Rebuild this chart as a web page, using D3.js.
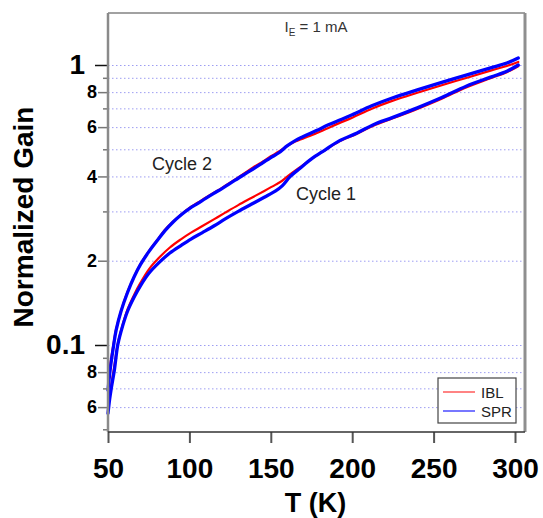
<!DOCTYPE html>
<html>
<head>
<meta charset="utf-8">
<script src="https://cdn.jsdelivr.net/npm/d3@7"></script>
<style>
  html, body { margin: 0; padding: 0; background: #fff; }
  svg { display: block; font-family: "Liberation Sans", Arial, sans-serif; }
</style>
</head>
<body>
<svg id="chart" width="543" height="518"></svg>
<script>
// ---------------- data ----------------
const tempCycle2 = [50, 51.5, 53.5, 55, 58, 62, 66, 70, 75, 80, 85, 90, 95, 100, 105, 110, 115, 120, 125, 130, 135, 140, 145, 150, 155, 160, 165, 170, 178, 185, 192, 200, 212, 225, 240, 255, 270, 285, 295, 302];
const iblCycle2  = [0.073, 0.086, 0.102, 0.114, 0.132, 0.155, 0.175, 0.195, 0.216, 0.236, 0.258, 0.276, 0.293, 0.309, 0.322, 0.336, 0.350, 0.364, 0.380, 0.397, 0.415, 0.434, 0.452, 0.472, 0.491, 0.514, 0.533, 0.547, 0.570, 0.595, 0.620, 0.648, 0.698, 0.746, 0.796, 0.847, 0.899, 0.955, 0.992, 1.025];
const sprCycle2  = [0.069, 0.083, 0.100, 0.113, 0.132, 0.154, 0.175, 0.194, 0.215, 0.235, 0.256, 0.275, 0.292, 0.307, 0.320, 0.334, 0.348, 0.362, 0.378, 0.394, 0.411, 0.428, 0.447, 0.467, 0.486, 0.514, 0.537, 0.555, 0.583, 0.610, 0.635, 0.664, 0.715, 0.764, 0.815, 0.867, 0.920, 0.977, 1.016, 1.059];

const tempCycle1 = [50, 51, 52, 54, 56, 59, 62, 66, 70, 75, 81, 88, 95, 101, 108, 115, 122, 130, 138, 146, 153, 157, 162, 168, 175, 183, 192, 203, 213, 225, 240, 255, 270, 285, 295, 302];
const iblCycle1  = [0.060, 0.066, 0.072, 0.085, 0.101, 0.118, 0.134, 0.151, 0.167, 0.186, 0.204, 0.223, 0.239, 0.252, 0.266, 0.281, 0.297, 0.316, 0.335, 0.355, 0.374, 0.386, 0.408, 0.432, 0.462, 0.495, 0.533, 0.568, 0.607, 0.645, 0.697, 0.758, 0.832, 0.897, 0.943, 0.990];
const sprCycle1  = [0.057, 0.064, 0.070, 0.082, 0.100, 0.117, 0.132, 0.148, 0.163, 0.180, 0.196, 0.213, 0.227, 0.239, 0.252, 0.266, 0.282, 0.300, 0.318, 0.337, 0.355, 0.370, 0.400, 0.428, 0.462, 0.496, 0.536, 0.572, 0.612, 0.650, 0.703, 0.765, 0.840, 0.905, 0.950, 1.000];

const xTicks = [50, 100, 150, 200, 250, 300];
const yMajorTicks = [0.1, 1];
const yMajorLabels = ["0.1", "1"];
const yMinorLabeled = [0.06, 0.08, 0.2, 0.4, 0.6, 0.8];
const yMinorLabels = ["6", "8", "2", "4", "6", "8"];
const yMinorUnlabeled = [0.05, 0.07, 0.09, 0.3, 0.5, 0.7, 0.9];
const gridValues = [0.06, 0.07, 0.08, 0.09, 0.1, 0.2, 0.3, 0.4, 0.5, 0.6, 0.7, 0.8, 0.9, 1];

const seriesNames = ["IBL", "SPR"];
const seriesColors = ["#ff0000", "#0000ff"];

// ---------------- layout ----------------
const svg = d3.select("#chart");
const pL = 108, pR = 525, pT = 13, pB = 432;

const x = d3.scaleLinear().domain([50, 300]).range([108, 515]);
const y = d3.scaleLog().domain([0.1, 1]).range([345, 65]);

// grid
const grid = svg.append("g").attr("transform", `translate(${pL},0)`)
  .call(d3.axisRight(y).tickValues(gridValues).tickSize(pR - pL).tickFormat(""));
grid.select(".domain").remove();
grid.selectAll("line").attr("stroke", "#9d9df2").attr("stroke-width", 1).attr("stroke-dasharray", "1.5,2.5");

// frame top and right
svg.append("line").attr("x1", pL).attr("x2", pR).attr("y1", pT).attr("y2", pT)
  .attr("stroke", "#444").attr("stroke-width", 1.2);
svg.append("line").attr("x1", pR).attr("x2", pR).attr("y1", pT).attr("y2", pB)
  .attr("stroke", "#8f8f8f").attr("stroke-width", 3);

// curves
const line = d3.line().x(d => x(d[0])).y(d => y(d[1])).curve(d3.curveCatmullRom.alpha(0.5));
const curves = [
  { t: tempCycle2, v: iblCycle2, c: 0, w: 2.2 },
  { t: tempCycle1, v: iblCycle1, c: 0, w: 2.2 },
  { t: tempCycle2, v: sprCycle2, c: 1, w: 3.3 },
  { t: tempCycle1, v: sprCycle1, c: 1, w: 3.3 }
];
curves.forEach(cv => {
  svg.append("path")
    .datum(cv.t.map((t, i) => [t, cv.v[i]]))
    .attr("fill", "none")
    .attr("stroke", seriesColors[cv.c])
    .attr("stroke-width", cv.w)
    .attr("stroke-linejoin", "round")
    .attr("stroke-linecap", "round")
    .attr("d", line);
});

// y axes
const yAxisMajor = svg.append("g").attr("transform", `translate(${pL},0)`)
  .call(d3.axisLeft(y).tickValues(yMajorTicks).tickSize(13).tickPadding(10)
    .tickFormat((d, i) => yMajorLabels[i]));
yAxisMajor.select(".domain").remove();
yAxisMajor.selectAll("line").attr("stroke", "#111").attr("stroke-width", 1.5);
yAxisMajor.selectAll("text").attr("font-size", 28).attr("font-weight", "bold").attr("fill", "#000")
  .attr("font-family", "Liberation Sans, Arial, sans-serif");

const yAxisMinor = svg.append("g").attr("transform", `translate(${pL},0)`)
  .call(d3.axisLeft(y).tickValues(yMinorLabeled).tickSize(10).tickPadding(1)
    .tickFormat((d, i) => yMinorLabels[i]));
yAxisMinor.select(".domain").remove();
yAxisMinor.selectAll("line").attr("stroke", "#777").attr("stroke-width", 1.5);
yAxisMinor.selectAll("text").attr("font-size", 18).attr("font-weight", "bold").attr("fill", "#000")
  .attr("font-family", "Liberation Sans, Arial, sans-serif");

const yAxisSmall = svg.append("g").attr("transform", `translate(${pL},0)`)
  .call(d3.axisLeft(y).tickValues(yMinorUnlabeled).tickSize(5).tickFormat(""));
yAxisSmall.select(".domain").remove();
yAxisSmall.selectAll("line").attr("stroke", "#777").attr("stroke-width", 1.5);

// left axis line
svg.append("line").attr("x1", pL).attr("x2", pL).attr("y1", pT).attr("y2", pB)
  .attr("stroke", "#8a8a8a").attr("stroke-width", 2.5);

// x axis
const xAxis = svg.append("g").attr("transform", `translate(0,${pB})`)
  .call(d3.axisBottom(x).tickValues(xTicks).tickSize(11).tickPadding(0).tickFormat(d3.format("d")));
xAxis.select(".domain").remove();
xAxis.selectAll("line").attr("stroke", "#555").attr("stroke-width", 2);
xAxis.selectAll("text").attr("font-size", 28).attr("font-weight", "bold").attr("fill", "#000")
  .attr("font-family", "Liberation Sans, Arial, sans-serif")
  .attr("dy", null).attr("y", 46);
svg.append("line").attr("x1", pL).attr("x2", pR).attr("y1", pB).attr("y2", pB)
  .attr("stroke", "#333").attr("stroke-width", 1.5);

// axis titles
svg.append("text").attr("x", 315.5).attr("y", 512).attr("text-anchor", "middle")
  .attr("font-size", 27).attr("font-weight", "bold").text("T (K)");
svg.append("text").attr("transform", "translate(33,217) rotate(-90)").attr("text-anchor", "middle")
  .attr("font-size", 28).attr("font-weight", "bold").text("Normalized Gain");

// title
const title = svg.append("text").attr("x", 316).attr("y", 32).attr("text-anchor", "middle")
  .attr("font-size", 15).attr("fill", "#333");
title.append("tspan").text("I");
title.append("tspan").attr("font-size", 10).attr("dy", 4).text("E");
title.append("tspan").attr("dy", -4).text(" = 1 mA");

// annotations
svg.append("text").attr("x", 152).attr("y", 169.5).attr("font-size", 18).attr("fill", "#222").text("Cycle 2");
svg.append("text").attr("x", 296).attr("y", 199.5).attr("font-size", 18).attr("fill", "#222").text("Cycle 1");

// legend
const lg = svg.append("g");
lg.append("rect").attr("x", 438).attr("y", 378).attr("width", 78).attr("height", 45)
  .attr("fill", "#fff").attr("stroke", "#444").attr("stroke-width", 1.2);
const legendColors = ["#ff5a5a", "#4a4aff"];
seriesNames.forEach((n, i) => {
  const yy = 392 + i * 19;
  lg.append("line").attr("x1", 443).attr("x2", 475).attr("y1", yy).attr("y2", yy)
    .attr("stroke", legendColors[i]).attr("stroke-width", 1.5);
  lg.append("text").attr("x", 481).attr("y", yy + 5.5).attr("font-size", 15).attr("fill", "#222").text(n);
});
</script>
</body>
</html>
